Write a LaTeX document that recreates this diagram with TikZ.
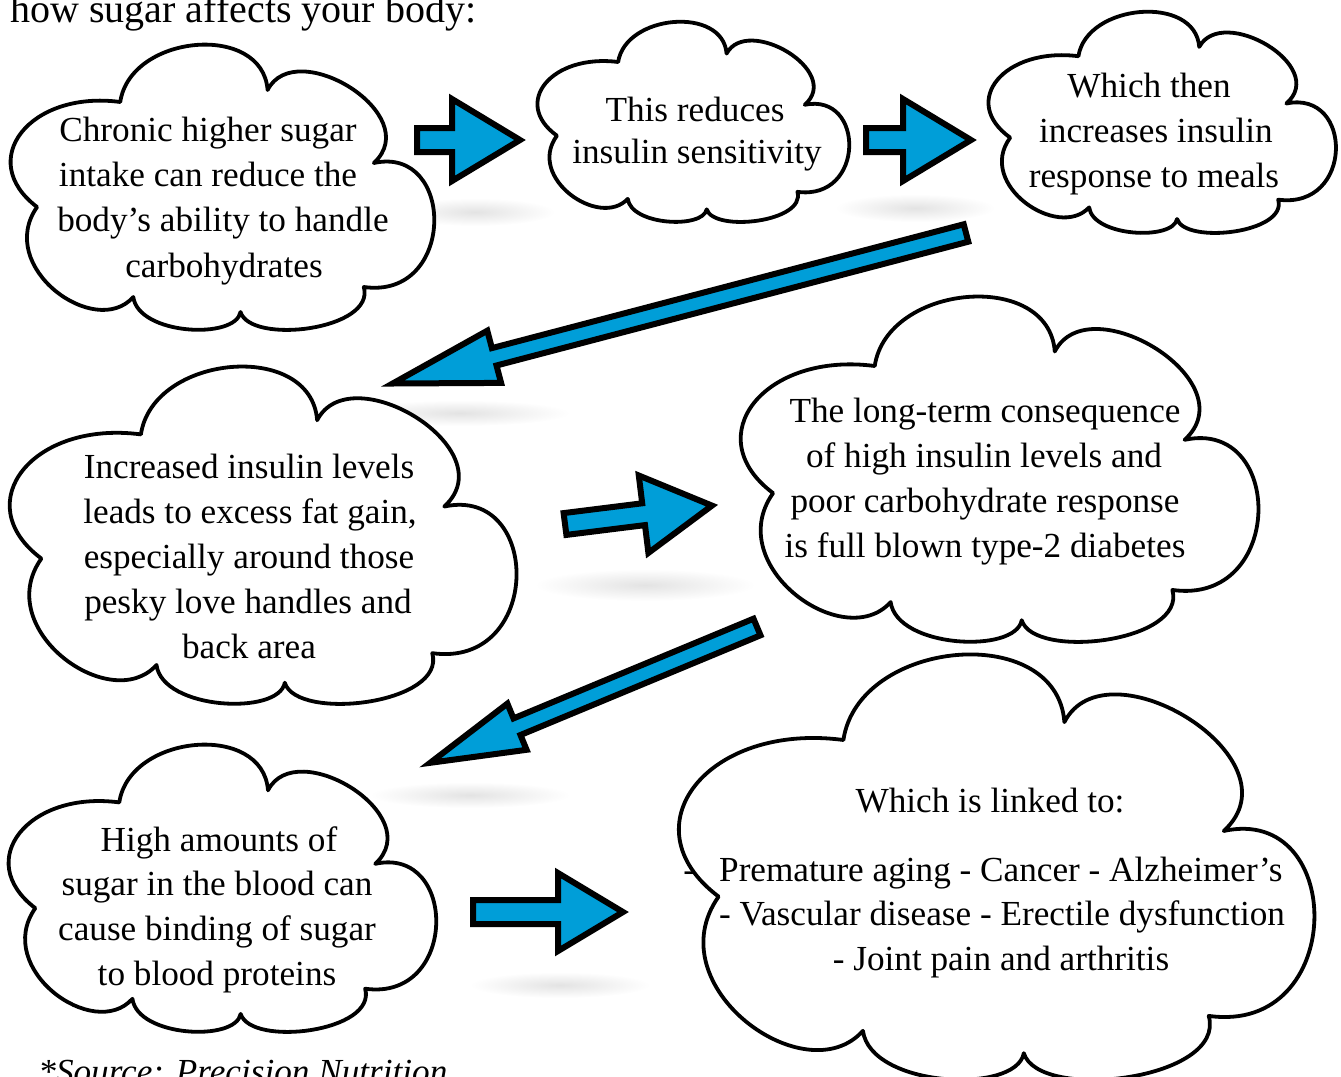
\documentclass[tikz,border=0pt]{standalone}
\usepackage{fontspec}
\setmainfont{Liberation Serif}
\usetikzlibrary{decorations.pathmorphing}
\definecolor{arrowblue}{RGB}{0,158,216}
\newcommand\bodysize{\fontsize{17.6pt}{22pt}\selectfont}
\newcommand\titlesize{\fontsize{20pt}{24pt}\selectfont}
\tikzset{
  cloudline/.style={draw=black, line width=1.9pt, fill=white, line join=round},
  blockarrow/.style={draw=black, line width=3pt, fill=arrowblue, line join=miter},
  sketchy/.style={draw=black, line width=0.7pt, decorate,
    decoration={random steps, segment length=2.5pt, amplitude=0.7pt}},
  txt/.style={anchor=base, inner sep=0pt, font=\bodysize},
  shadowblob/.style={inner color=black!11, outer color=white},
}
\newcommand\drawcloud[5]{%
  \begin{scope}[shift={(#2,#3)}, xscale=#4/427, yscale=#5/285]
    \draw[cloudline] (27,162) .. controls (-35,115) and (20,45) .. (110,57)
      .. controls (120,-11) and (252,-23) .. (257,45)
      .. controls (285,-10) and (415,70) .. (363,118)
      .. controls (445,100) and (445,255) .. (353,242)
      .. controls (365,285) and (240,300) .. (230,267)
      .. controls (225,295) and (128,290) .. (123,252)
      .. controls (85,295) and (-15,222) .. (27,162) -- cycle;
    \coordinate (#1) at (213,142);
  \end{scope}}
\newcommand\sketcharrow[7]{%
  \draw[blockarrow] #1 -- #2 -- #3 -- #4 -- #5 -- #6 -- #7 -- cycle;
  \draw[sketchy] #1 -- #2 -- #3 -- #4 -- #5 -- #6 -- #7 -- cycle;}
\begin{document}
\begin{tikzpicture}[x=0.5pt,y=-0.5pt]
\useasboundingbox (0,0) rectangle (1341,1077);
% soft shadows
\shade[shadowblob] (475,212) ellipse [x radius=80, y radius=14];
\shade[shadowblob] (915,208) ellipse [x radius=80, y radius=14];
\shade[shadowblob] (460,413) ellipse [x radius=110, y radius=13];
\shade[shadowblob] (645,585) ellipse [x radius=110, y radius=16];
\shade[shadowblob] (470,795) ellipse [x radius=100, y radius=13];
\shade[shadowblob] (560,985) ellipse [x radius=90, y radius=13];
% clouds
\drawcloud{cA}{10}{45}{428}{285}
\drawcloud{cB}{537}{22}{315}{200}
\drawcloud{cC}{988}{12}{351}{221}
\drawcloud{cD}{9}{367}{512}{337}
\drawcloud{cE}{740}{297}{523}{345}
\drawcloud{cF}{8}{745}{432}{287}
\drawcloud{cG}{678}{655}{642}{425}
% arrows
\sketcharrow{(417,152)}{(452,152)}{(452,181)}{(520,140)}{(452,99)}{(452,128)}{(417,128)}
\sketcharrow{(866,152)}{(903,152)}{(903,181)}{(971,140)}{(903,99)}{(903,128)}{(866,128)}
\sketcharrow{(963.7,224.3)}{(491.9,348.1)}{(487.3,330.7)}{(392.7,383.5)}{(501.1,382.9)}{(496.5,365.5)}{(968.3,241.7)}
\sketcharrow{(753.5,618.7)}{(513.5,718.4)}{(507.4,703.6)}{(430.2,762.8)}{(526.6,749.8)}{(520.5,735.0)}{(760.5,635.3)}
\sketcharrow{(566.4,534.9)}{(645,525.1)}{(648.4,552.9)}{(712,505.6)}{(638.8,475.5)}{(642.2,503.3)}{(563.6,513.1)}
\sketcharrow{(473,924)}{(558,924)}{(558,951)}{(623,912)}{(558,873)}{(558,900)}{(473,900)}
% title and source
\node[anchor=base west, inner sep=0pt, font=\titlesize] (title) at (10,22) {how sugar affects your body:};
\node[anchor=base west, inner sep=0pt, font=\bodysize\itshape] (source) at (38,1083) {*Source: Precision Nutrition};
% cloud A
\node[txt] (a1) at (208,141) {Chronic higher sugar};
\node[txt] (a2) at (208,186) {intake can reduce the};
\node[txt] (a3) at (223,231) {body’s ability to handle};
\node[txt] (a4) at (224,277) {carbohydrates};
% cloud B
\node[txt] (b1) at (695,121) {This reduces};
\node[txt] (b2) at (697,163) {insulin sensitivity};
% cloud C
\node[txt] (c1) at (1149,97) {Which then};
\node[txt] (c2) at (1156,142) {increases insulin};
\node[txt] (c3) at (1154,187) {response to meals};
% cloud D
\node[txt] (d1) at (249,478) {Increased insulin levels};
\node[txt] (d2) at (250,523) {leads to excess fat gain,};
\node[txt] (d3) at (249,568) {especially around those};
\node[txt] (d4) at (248,613) {pesky love handles and};
\node[txt] (d5) at (249,658) {back area};
% cloud E
\node[txt] (e1) at (985,422) {The long-term consequence};
\node[txt] (e2) at (984,467) {of high insulin levels and};
\node[txt] (e3) at (985,512) {poor carbohydrate response};
\node[txt] (e4) at (985,557) {is full blown type-2 diabetes};
% cloud F
\node[txt] (f1) at (219,851) {High amounts of};
\node[txt] (f2) at (217,895) {sugar in the blood can};
\node[txt] (f3) at (217,940) {cause binding of sugar};
\node[txt] (f4) at (217,985) {to blood proteins};
% cloud G
\node[txt] (g1) at (990,812) {Which is linked to:};
\node[txt] (g2) at (983,881) {-\hspace{12pt}Premature aging - Cancer - Alzheimer’s};
\node[txt] (g3) at (1002,925) {- Vascular disease - Erectile dysfunction};
\node[txt] (g4) at (1001,970) {- Joint pain and arthritis};
\end{tikzpicture}
\end{document}
